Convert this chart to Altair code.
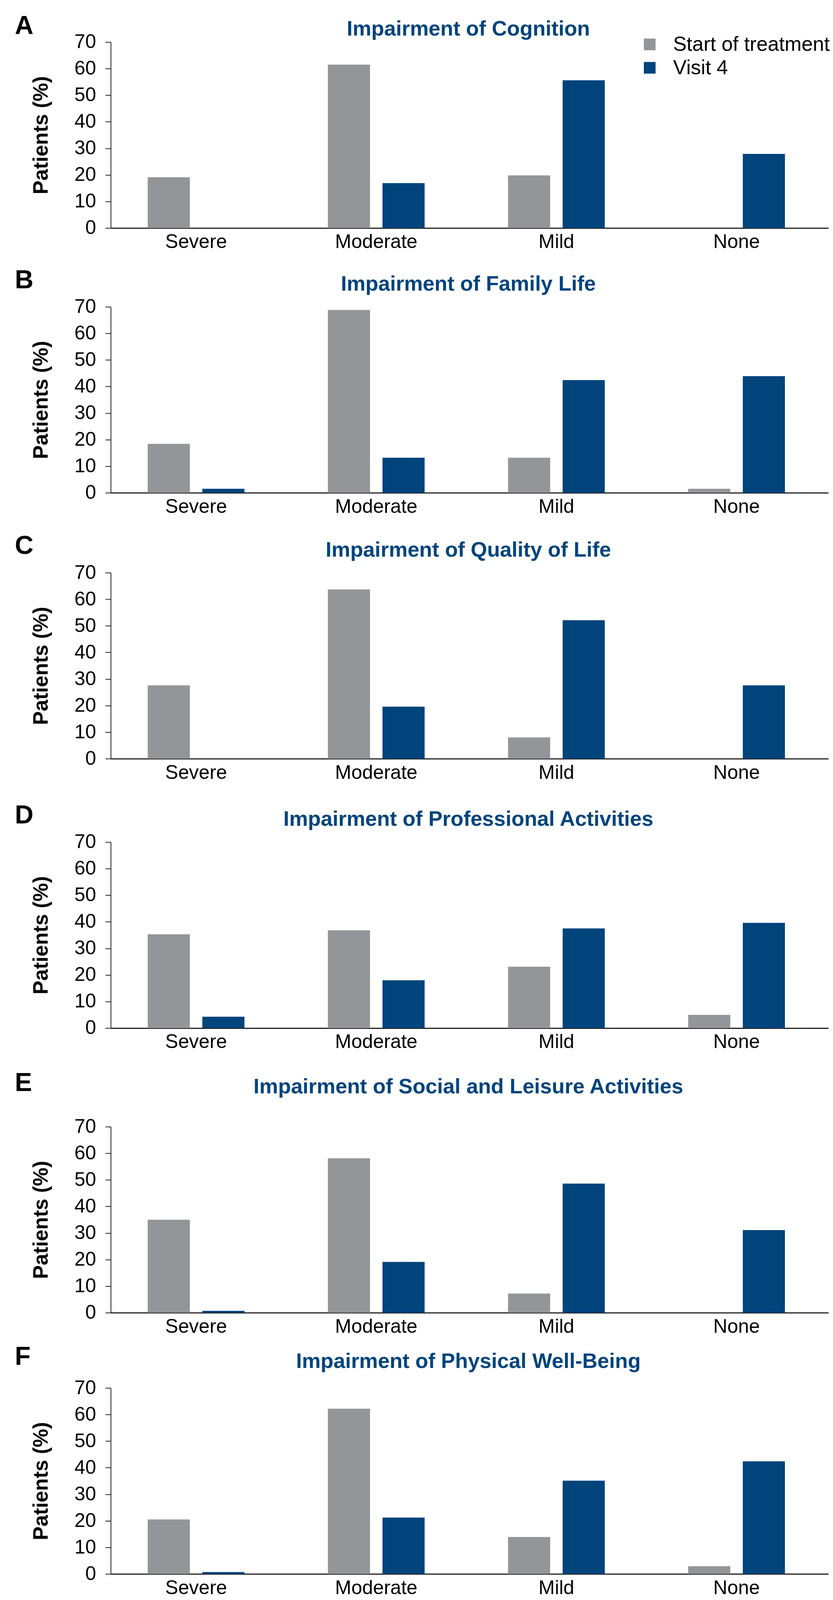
import altair as alt
import pandas as pd

categories = ["Severe", "Moderate", "Mild", "None"]
series = ["Start of treatment", "Visit 4"]
letters = ["A", "B", "C", "D", "E", "F"]
titles = [
    "Impairment of Cognition",
    "Impairment of Family Life",
    "Impairment of Quality of Life",
    "Impairment of Professional Activities",
    "Impairment of Social and Leisure Activities",
    "Impairment of Physical Well-Being",
]
start_vals = [
    [19.1, 61.5, 19.8, 0.0],
    [18.4, 68.8, 13.2, 1.5],
    [27.6, 63.7, 8.0, 0.0],
    [35.3, 36.8, 23.1, 5.0],
    [35.0, 58.1, 7.2, 0.0],
    [20.5, 62.2, 13.9, 2.9],
]
visit_vals = [
    [0.0, 16.9, 55.6, 27.9],
    [1.5, 13.2, 42.4, 43.9],
    [0.0, 19.6, 52.1, 27.6],
    [4.3, 18.0, 37.5, 39.6],
    [0.7, 19.1, 48.6, 31.1],
    [0.7, 21.2, 35.1, 42.4],
]
y_ticks = [0, 10, 20, 30, 40, 50, 60, 70]

GRAY = "#939598"
BLUE = "#00447C"
AXIS = "#231F20"
FONT = "Liberation Sans"
W = 1840
H = 477

letter_y = [-21, -47, -48, -48, -92, -59]
title_y = [-17, -41, -41, -42, -86, -51]
spacer_y = [-86, -121, -124, -133, -172, -111]


def panel(i):
    rows = []
    for c, s, v in zip(categories, start_vals[i], visit_vals[i]):
        rows.append({"cat": c, "series": series[0], "pct": s})
        rows.append({"cat": c, "series": series[1], "pct": v})
    df = pd.DataFrame(rows)

    if i == 0:
        legend = alt.Legend(
            orient="none", legendX=1356, legendY=-20, title=None,
            symbolType="square", symbolSize=900, symbolStrokeWidth=0,
            labelFontSize=52, labelFont=FONT, labelColor="black",
            labelOffset=34, rowPadding=8, padding=0, labelLimit=1000,
        )
    else:
        legend = None

    bars = alt.Chart(df).mark_bar().encode(
        x=alt.X(
            "cat:N", sort=categories,
            scale=alt.Scale(paddingInner=0.463, paddingOuter=0.223, align=0.46),
            axis=alt.Axis(
                title=None, labelAngle=0, ticks=False, domainWidth=3,
                domainColor=AXIS, labelFontSize=50, labelPadding=11,
                labelColor="black", labelFont=FONT, labelLimit=1000,
            ),
        ),
        xOffset=alt.XOffset(
            "series:N", sort=series,
            scale=alt.Scale(paddingInner=0.229, paddingOuter=0),
        ),
        y=alt.Y(
            "pct:Q",
            scale=alt.Scale(domain=[0, 70], nice=False),
            axis=alt.Axis(
                values=y_ticks, title="Patients (%)", grid=False,
                domainColor=AXIS, domainWidth=2, tickColor=AXIS, tickWidth=2,
                tickSize=14, labelFontSize=50, labelPadding=24,
                labelColor="black", labelFont=FONT,
                titleFont=FONT, titleFontSize=53, titleFontWeight="bold",
                titleColor="black", titlePadding=58,
            ),
        ),
        color=alt.Color(
            "series:N", sort=series,
            scale=alt.Scale(domain=series, range=[GRAY, BLUE]),
            legend=legend,
        ),
    )

    letter = alt.Chart(pd.DataFrame({"t": [letters[i]]})).mark_text(
        font=FONT, fontSize=66, fontWeight="bold", align="left",
        baseline="alphabetic", color="black",
    ).encode(text="t:N", x=alt.value(-246), y=alt.value(letter_y[i]))

    heading = alt.Chart(pd.DataFrame({"t": [titles[i]]})).mark_text(
        font=FONT, fontSize=54, fontWeight="bold", align="center",
        baseline="alphabetic", color=BLUE,
    ).encode(text="t:N", x=alt.value(917), y=alt.value(title_y[i]))

    spacer = alt.Chart(pd.DataFrame({"t": ["|"]})).mark_text(
        fontSize=10, baseline="top", opacity=0,
    ).encode(text="t:N", x=alt.value(0), y=alt.value(spacer_y[i]))

    return alt.layer(bars, letter, heading, spacer).properties(width=W, height=H)


chart = alt.vconcat(*[panel(i) for i in range(6)], spacing=20).resolve_scale(
    color="independent"
).resolve_legend(color="independent").properties(
    padding={"left": 30, "top": 10, "right": 0, "bottom": 0},
    background="white",
).configure_view(strokeWidth=0)

chart.save("out.html", embed_options={"renderer": "svg", "actions": False})
